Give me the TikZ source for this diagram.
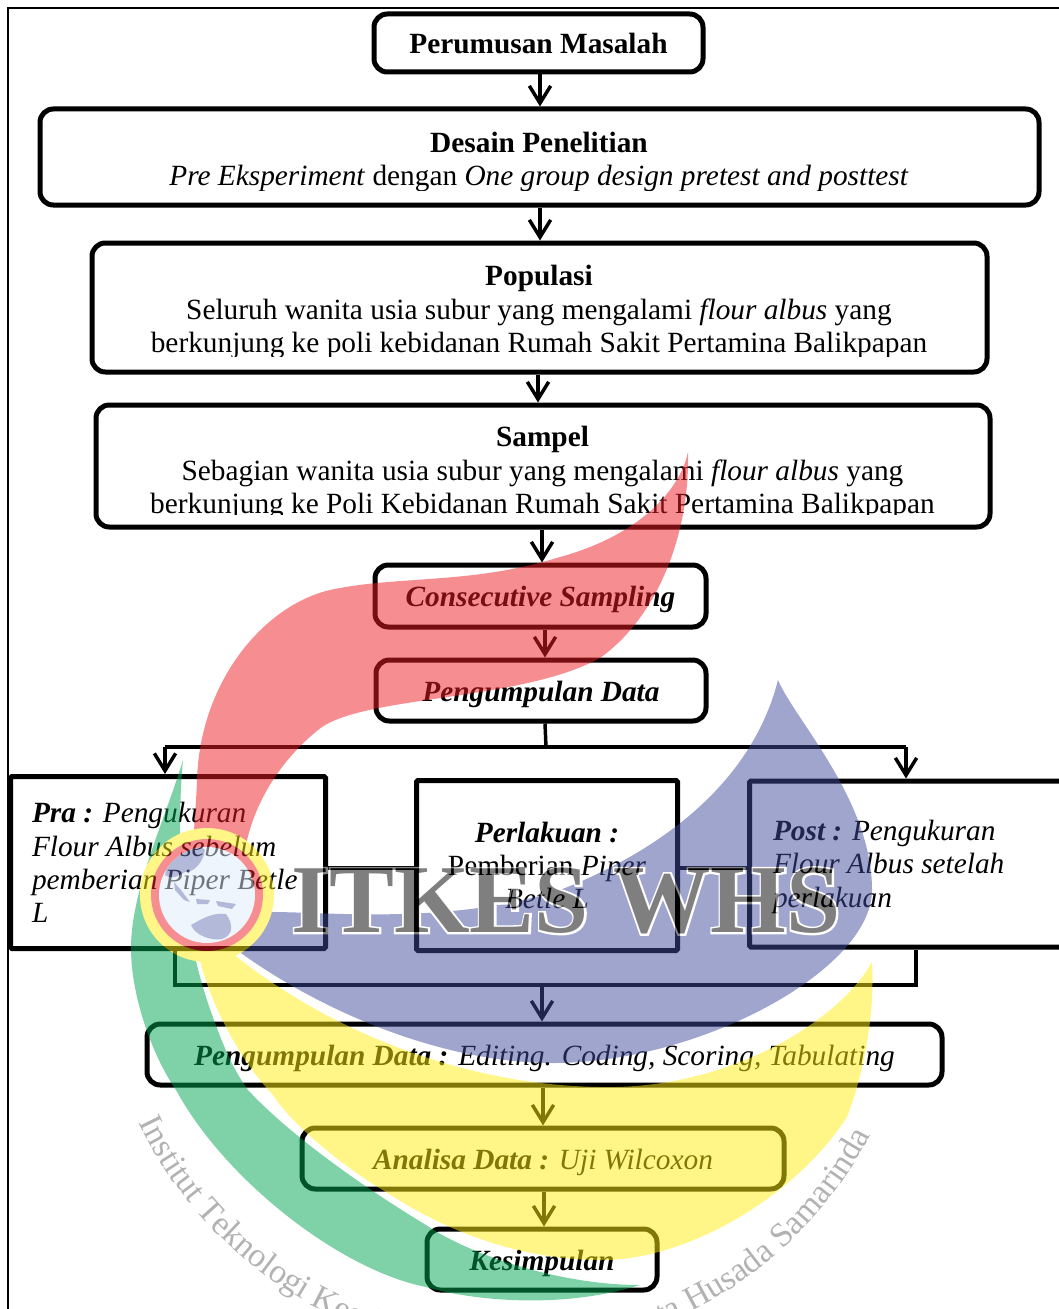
\documentclass[tikz,border=0pt]{standalone}
\usepackage{fontspec}
\setmainfont{Liberation Serif}
\usetikzlibrary{arrows.meta}
\usetikzlibrary{decorations.text}
\def\px{0.75pt}
\definecolor{wmred}{HTML}{ED1C24}
\definecolor{wmblue}{HTML}{414B9B}
\definecolor{wmgreen}{HTML}{00A651}
\definecolor{wmyellow}{HTML}{FFEE10}
\definecolor{wmdisc}{HTML}{DDEBF9}

\begin{document}
\begin{tikzpicture} [
    x=\px, y=-\px,
    >={Straight Barb[length=13pt,width=16pt]},
    boxtext/.style  = { font=\fontsize{22}{25}\selectfont, align=center, inner sep=0pt },
    oneline/.style  = { text height=16pt, text depth=0pt },
    roundbox/.style = { rectangle, draw, line width=3.75pt, rounded corners=10pt,
                        boxtext },
    squarebox/.style = { rectangle, draw, line width=3.75pt, rounded corners=1pt,
                        boxtext },
    line/.style     = { draw, line width=2.6pt, -> },
    joinline/.style = { draw, line width=2.6pt },
  ]
  \clip (0,0) rectangle (1059,1309);
  \draw [line width=1pt] (8,1309) -- (8,8) -- (1059,8);

  % boxes, top to bottom
  \node [roundbox, oneline, minimum width=329*\px, minimum height=58*\px] (perumusan) at (538.5,43)
        {\textbf{Perumusan Masalah}};
  \node [roundbox, minimum width=999*\px, minimum height=96*\px] (desain) at (539.5,157) {};
  \node [roundbox, minimum width=895*\px, minimum height=129*\px] (populasi) at (539.5,307.5) {};
  \node [roundbox, minimum width=894*\px, minimum height=122*\px] (sampel) at (543,466) {};
  \node [roundbox, oneline, minimum width=331*\px, minimum height=62*\px] (consecutive) at (540.5,596)
        {\textbf{\textit{Consecutive Sampling}}};
  \node [roundbox, oneline, minimum width=330*\px, minimum height=61*\px] (pengumpulan) at (541,690.5)
        {\textbf{\textit{Pengumpulan Data}}};
  \node [squarebox, minimum width=315*\px, minimum height=172*\px,
         text width=272*\px, align=flush left] (pra) at (168,862.5)
        {\textbf{\textit{Pra :}} \textit{Pengukuran}\\\textit{Flour Albus sebelum}\\
         \textit{pemberian Piper Betle}\\\textit{L}};
  \node [squarebox, minimum width=261*\px, minimum height=170*\px] (perlakuan) at (547,865.5)
        {\textbf{\textit{Perlakuan :}}\\Pemberian \textit{Piper}\\\textit{Betle L}};
  \node [squarebox, minimum width=325*\px, minimum height=166*\px,
         text width=278*\px, align=flush left] (post) at (912,864)
        {\rule{0pt}{19.5pt}\textbf{\textit{Post :}} \textit{Pengukuran}\\\textit{Flour Albus setelah}\\
         \textit{perlakuan}};
  \node [roundbox, oneline, minimum width=795*\px, minimum height=61*\px] (olah) at (544.5,1054.5)
        {\textbf{\textit{Pengumpulan Data :}} \textit{Editing. Coding, Scoring, Tabulating}};
  \node [roundbox, oneline, minimum width=482*\px, minimum height=61*\px] (analisa) at (543,1158.5)
        {\textbf{\textit{Analisa Data :}} \textit{Uji Wilcoxon}};
  \node [roundbox, oneline, minimum width=230*\px, minimum height=61*\px] (kesimpulan) at (542,1259.5)
        {\textbf{\textit{Kesimpulan}}};

  % the last lines of these three are cut off at the bottom
  \begin{scope}
    \clip (0,100) rectangle (1059,190.5);
    \node [boxtext] (desaintext) at (539,162)
        {\textbf{Desain Penelitian}\\\textit{Pre Eksperiment} dengan
         \textit{One group design pretest and posttest}};
  \end{scope}
  \begin{scope}
    \clip (0,240) rectangle (1059,356.5);
    \node [boxtext] (populasitext) at (539,312)
        {\textbf{Populasi}\\Seluruh wanita usia subur yang mengalami \textit{flour albus} yang\\
         berkunjung ke poli kebidanan Rumah Sakit Pertamina Balikpapan};
  \end{scope}
  \begin{scope}
    \clip (0,400) rectangle (1059,514);
    \node [boxtext] (sampeltext) at (542.5,473)
        {\textbf{Sampel}\\Sebagian wanita usia subur yang mengalami \textit{flour albus} yang\\
         berkunjung ke Poli Kebidanan Rumah Sakit Pertamina Balikpapan};
  \end{scope}

  \coordinate (splitup) at (546,747);
  \coordinate (splitleft) at (165,747);
  \coordinate (splitright) at (906,747);
  \coordinate (joinleft) at (175,985);
  \coordinate (joinright) at (916,985);
  \coordinate (joinmid) at (542,985);
  \coordinate (linkmid) at (0,868);

  % connect all nodes defined above
  \begin{scope} [every path/.style=line]
    \path ([xshift=1.5*\px]perumusan.south) -- ([xshift=.5*\px]desain.north);
    \path ([xshift=.5*\px]desain.south)     -- ([xshift=.5*\px]populasi.north);
    \path ([xshift=-1.5*\px]populasi.south) -- ([xshift=-5*\px]sampel.north);
    \path ([xshift=-1*\px]sampel.south)     -- ([xshift=1.5*\px]consecutive.north);
    \path ([xshift=4.5*\px]consecutive.south) -- ([xshift=4*\px]pengumpulan.north);
    \path (splitleft)  -- (splitleft |- pra.north);
    \path (splitright) -- (splitright |- post.north);
    \path (joinmid)    -- ([xshift=-2.5*\px]olah.north);
    \path ([xshift=-1.5*\px]olah.south)    -- (analisa.north);
    \path ([xshift=1*\px]analisa.south)    -- ([xshift=2*\px]kesimpulan.north);
  \end{scope}
  \begin{scope} [every path/.style=joinline]
    \path ([xshift=4*\px]pengumpulan.south) -- (splitup);
    \path (splitleft) -- (splitright);
    \path (joinleft |- pra.south) -- (joinleft) -- (joinright) -- (joinright |- post.south);
    \path (pra.east |- linkmid) -- (perlakuan.west |- linkmid);
    \path (perlakuan.east |- linkmid) -- (post.west |- linkmid);
  \end{scope}

  % watermark over everything
  \begin{scope} [transparency group, opacity=.5]
    \fill [wmgreen] (183,760) .. controls (165,820) and (131,890) .. (131,948)
        .. controls (131,1000) and (155,1060) .. (176,1090)
        .. controls (225,1180) and (340,1270) .. (426,1287)
        .. controls (470,1300) and (560,1310) .. (640,1285)
        .. controls (560,1285) and (470,1255) .. (426,1225)
        .. controls (360,1185) and (290,1135) .. (248,1090)
        .. controls (232,1068) and (222,1042) .. (214,1020)
        .. controls (195,970) and (172,880) .. (183,760) -- cycle;
    \fill [wmyellow] (872,962) .. controls (840,1020) and (730,1090) .. (600,1087)
        .. controls (450,1085) and (300,1020) .. (200,925)
        -- (200,960) .. controls (208,995) and (235,1055) .. (273,1095)
        .. controls (290,1122) and (340,1165) .. (386,1192)
        .. controls (420,1214) and (500,1262) .. (610,1260)
        .. controls (700,1255) and (800,1190) .. (847,1117)
        .. controls (865,1070) and (875,1010) .. (872,962) -- cycle;
    \fill [wmblue] (778,680) .. controls (795,720) and (872,800) .. (872,890)
        .. controls (872,970) and (700,1063) .. (553,1063)
        .. controls (440,1063) and (320,1010) .. (241,953)
        -- (271,912) .. controls (330,912) and (450,925) .. (560,890)
        .. controls (650,855) and (750,790) .. (778,680) -- cycle;
    \fill [wmred] (688,452) .. controls (680,490) and (640,535) .. (560,557)
        .. controls (470,585) and (400,575) .. (330,590)
        .. controls (265,605) and (200,680) .. (197,780)
        .. controls (196,810) and (193,830) .. (194,850)
        -- (245,850) .. controls (252,810) and (275,765) .. (318,730)
        .. controls (360,695) and (520,702) .. (600,658)
        .. controls (660,615) and (690,530) .. (688,452) -- cycle;
    % logo
    \fill [wmyellow] (207,895) circle [radius=67*\px];
    \fill [wmred] (207,895) circle [radius=56*\px];
    \fill [wmdisc] (207,895) circle [radius=48*\px];
    \begin{scope}
      \clip (207,895) circle [radius=48*\px];
      \fill [wmblue!75!wmdisc] (165,875) .. controls (170,850) and (190,835) .. (205,850)
          .. controls (203,862) and (195,872) .. (185,872)
          .. controls (178,876) and (172,880) .. (165,875) -- cycle;
      \fill [wmblue!75!wmdisc] (191,925) .. controls (200,920) and (212,912) .. (226,914)
          .. controls (234,925) and (233,935) .. (222,939)
          .. controls (210,941) and (195,935) .. (191,925) -- cycle;
      \fill [wmblue!75!wmdisc] (174,882) -- (181,890) -- (190,902) -- (184,900) -- (175,890) -- cycle;
      \fill [wmblue!75!wmdisc] (196,899) -- (210,900) -- (208,904) -- (197,904) -- cycle;
      \fill [wmblue!75!wmdisc] (216,901) -- (236,904) -- (232,909) -- (218,906) -- cycle;
    \end{scope}
    \node [font=\fontsize{73}{73}\selectfont\bfseries\addfontfeatures{FakeBold=4}, text=white, inner sep=0pt]
          (itkesback) at (566,901) {ITKES WHS};
    \node [font=\fontsize{73}{73}\selectfont\bfseries, text=black, inner sep=0pt]
          (itkes) at (566,901) {ITKES WHS};
  \end{scope}
  \path [decorate, decoration={text along path, text align=center,
        text={|\fontsize{25.5}{26}\selectfont\color{gray!60}|Institut Teknologi Kesehatan dan Sains Wiyata Husada Samarinda}}]
        (140,1125) arc [radius=307pt, start angle=206, end angle=332];
\end{tikzpicture}
\end{document}
